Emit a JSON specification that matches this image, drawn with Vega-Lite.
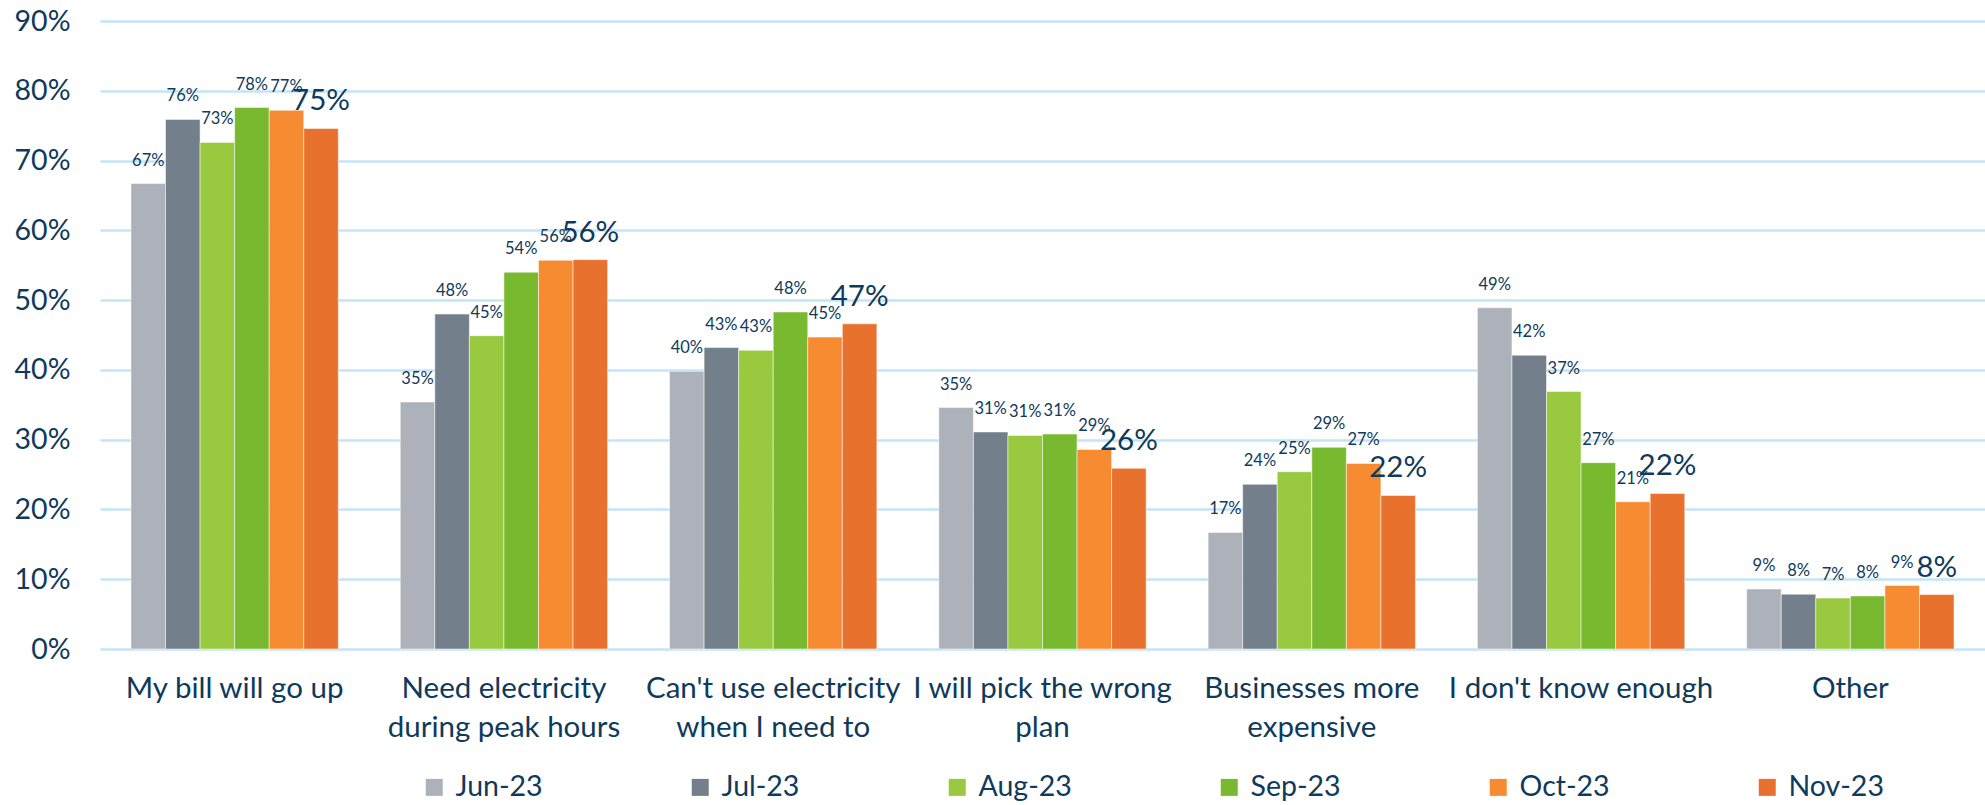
{
  "$schema": "https://vega.github.io/schema/vega-lite/v6.json",
  "width": 1885,
  "height": 628,
  "autosize": {"type": "none"},
  "padding": {"left": 100, "top": 21, "right": 0, "bottom": 156},
  "background": "white",
  "config": {"view": {"stroke": null}, "font": "Lato"},
  "data": {
    "values": [
      {"concern": "My bill will go up", "month": "Jun-23", "share": 0.667},
      {"concern": "My bill will go up", "month": "Jul-23", "share": 0.759},
      {"concern": "My bill will go up", "month": "Aug-23", "share": 0.726},
      {"concern": "My bill will go up", "month": "Sep-23", "share": 0.776},
      {"concern": "My bill will go up", "month": "Oct-23", "share": 0.772},
      {"concern": "My bill will go up", "month": "Nov-23", "share": 0.746},
      {"concern": "Need electricity during peak hours", "month": "Jun-23", "share": 0.354},
      {"concern": "Need electricity during peak hours", "month": "Jul-23", "share": 0.480},
      {"concern": "Need electricity during peak hours", "month": "Aug-23", "share": 0.449},
      {"concern": "Need electricity during peak hours", "month": "Sep-23", "share": 0.540},
      {"concern": "Need electricity during peak hours", "month": "Oct-23", "share": 0.557},
      {"concern": "Need electricity during peak hours", "month": "Nov-23", "share": 0.558},
      {"concern": "Can't use electricity when I need to", "month": "Jun-23", "share": 0.398},
      {"concern": "Can't use electricity when I need to", "month": "Jul-23", "share": 0.432},
      {"concern": "Can't use electricity when I need to", "month": "Aug-23", "share": 0.428},
      {"concern": "Can't use electricity when I need to", "month": "Sep-23", "share": 0.483},
      {"concern": "Can't use electricity when I need to", "month": "Oct-23", "share": 0.447},
      {"concern": "Can't use electricity when I need to", "month": "Nov-23", "share": 0.466},
      {"concern": "I will pick the wrong plan", "month": "Jun-23", "share": 0.346},
      {"concern": "I will pick the wrong plan", "month": "Jul-23", "share": 0.311},
      {"concern": "I will pick the wrong plan", "month": "Aug-23", "share": 0.306},
      {"concern": "I will pick the wrong plan", "month": "Sep-23", "share": 0.308},
      {"concern": "I will pick the wrong plan", "month": "Oct-23", "share": 0.286},
      {"concern": "I will pick the wrong plan", "month": "Nov-23", "share": 0.259},
      {"concern": "Businesses more expensive", "month": "Jun-23", "share": 0.167},
      {"concern": "Businesses more expensive", "month": "Jul-23", "share": 0.236},
      {"concern": "Businesses more expensive", "month": "Aug-23", "share": 0.254},
      {"concern": "Businesses more expensive", "month": "Sep-23", "share": 0.289},
      {"concern": "Businesses more expensive", "month": "Oct-23", "share": 0.266},
      {"concern": "Businesses more expensive", "month": "Nov-23", "share": 0.220},
      {"concern": "I don't know enough", "month": "Jun-23", "share": 0.489},
      {"concern": "I don't know enough", "month": "Jul-23", "share": 0.421},
      {"concern": "I don't know enough", "month": "Aug-23", "share": 0.369},
      {"concern": "I don't know enough", "month": "Sep-23", "share": 0.267},
      {"concern": "I don't know enough", "month": "Oct-23", "share": 0.211},
      {"concern": "I don't know enough", "month": "Nov-23", "share": 0.223},
      {"concern": "Other", "month": "Jun-23", "share": 0.086},
      {"concern": "Other", "month": "Jul-23", "share": 0.0785},
      {"concern": "Other", "month": "Aug-23", "share": 0.073},
      {"concern": "Other", "month": "Sep-23", "share": 0.076},
      {"concern": "Other", "month": "Oct-23", "share": 0.091},
      {"concern": "Other", "month": "Nov-23", "share": 0.078}
    ]
  },
  "encoding": {
    "x": {
      "field": "concern",
      "type": "nominal",
      "sort": null,
      "scale": {"paddingInner": 0.23, "paddingOuter": 0.115},
      "axis": {
        "title": null,
        "domain": false,
        "ticks": false,
        "labelAngle": 0,
        "labelFontSize": 29.5,
        "labelFont": "Lato",
        "labelColor": "#0e3a5c",
        "labelPadding": 25,
        "labelLimit": 600,
        "labelLineHeight": 39,
        "labelExpr": "datum.value == 'Need electricity during peak hours' ? ['Need electricity', 'during peak hours'] : datum.value == \"Can't use electricity when I need to\" ? [\"Can't use electricity\", 'when I need to'] : datum.value == 'I will pick the wrong plan' ? ['I will pick the wrong', 'plan'] : datum.value == 'Businesses more expensive' ? ['Businesses more', 'expensive'] : datum.label"
      }
    },
    "xOffset": {
      "field": "month",
      "type": "nominal",
      "sort": ["Jun-23", "Jul-23", "Aug-23", "Sep-23", "Oct-23", "Nov-23"]
    },
    "y": {
      "field": "share",
      "type": "quantitative",
      "scale": {"domain": [0, 0.9]},
      "axis": {
        "title": null,
        "values": [0, 0.1, 0.2, 0.3, 0.4, 0.5, 0.6, 0.7, 0.8, 0.9],
        "format": ".0%",
        "domain": false,
        "ticks": false,
        "grid": true,
        "gridColor": "#c5e4f6",
        "gridWidth": 2.5,
        "labelFontSize": 28.5,
        "labelFont": "Lato",
        "labelColor": "#0e3a5c",
        "labelPadding": 30
      }
    }
  },
  "layer": [
    {
      "mark": {"type": "bar", "stroke": "#ffffff", "strokeWidth": 1, "strokeOpacity": 0.5},
      "encoding": {
        "color": {
          "field": "month",
          "type": "nominal",
          "sort": ["Jun-23", "Jul-23", "Aug-23", "Sep-23", "Oct-23", "Nov-23"],
          "scale": {
            "domain": ["Jun-23", "Jul-23", "Aug-23", "Sep-23", "Oct-23", "Nov-23"],
            "range": ["#adb1b9", "#737f8b", "#98c93f", "#79b92f", "#f68b31", "#e8722d"]
          },
          "legend": {
            "title": null,
            "orient": "none",
            "legendX": 320,
            "legendY": 752,
            "direction": "horizontal",
            "symbolType": "square",
            "symbolSize": 289,
            "symbolStrokeWidth": 0,
            "symbolOpacity": 1,
            "labelFontSize": 28.5,
            "labelFont": "Lato",
            "labelColor": "#0e3a5c",
            "labelOffset": 7,
            "columnPadding": 143,
            "padding": 0
          }
        }
      }
    },
    {
      "mark": {"type": "text", "baseline": "alphabetic", "dy": -18, "color": "#0e3a5c", "font": "Lato"},
      "encoding": {
        "text": {"field": "share", "type": "quantitative", "format": ".0%"},
        "size": {
          "condition": {"test": "datum.month == 'Nov-23'", "value": 29.5},
          "value": 16.5
        }
      }
    }
  ]
}
